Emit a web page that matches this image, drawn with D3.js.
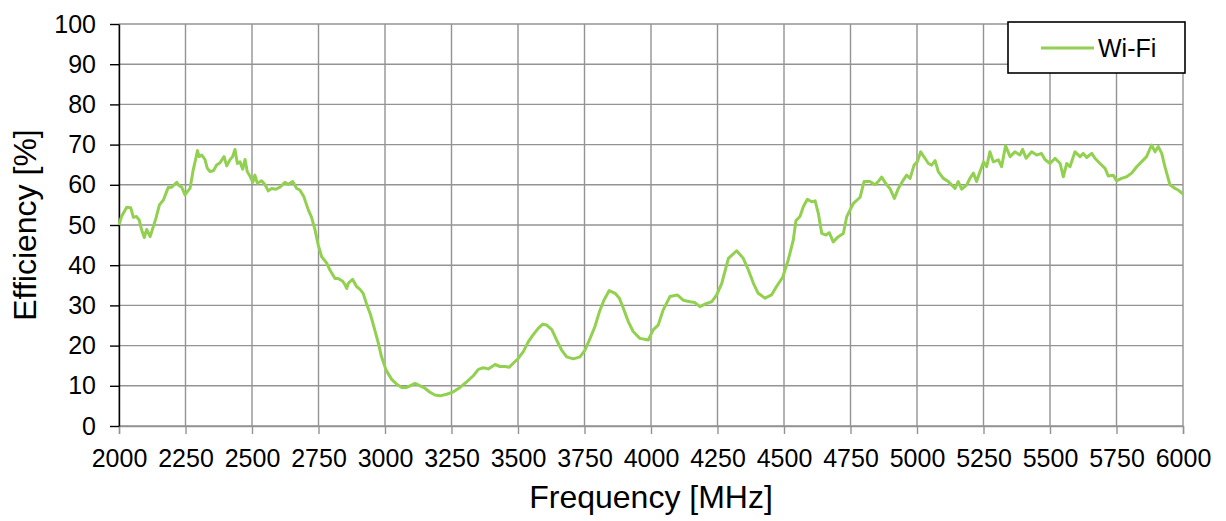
<!DOCTYPE html>
<html>
<head>
<meta charset="utf-8">
<script src="https://cdn.jsdelivr.net/npm/d3@7"></script>
<style>
html,body{margin:0;padding:0;background:#fff;}
svg{display:block;font-family:"Liberation Sans",Arial,sans-serif;}
</style>
</head>
<body>
<svg id="chart" width="1226" height="521"></svg>
<script>
const seriesName = "Wi-Fi";
const xTicks = [2000,2250,2500,2750,3000,3250,3500,3750,4000,4250,4500,4750,5000,5250,5500,5750,6000];
const yTicks = [0,10,20,30,40,50,60,70,80,90,100];
const frequency = [2000,2010,2029,2044,2054,2066,2076,2085,2095,2104,2117,2129,2139,2152,2167,2179,2185,2198,2217,2226,2236,2248,2257,2267,2279,2289,2295,2301,2311,2323,2332,2342,2355,2367,2380,2395,2405,2417,2427,2436,2445,2455,2465,2474,2482,2492,2503,2511,2520,2536,2549,2561,2574,2590,2605,2624,2636,2653,2668,2680,2695,2712,2724,2737,2749,2762,2781,2793,2812,2824,2841,2850,2856,2862,2878,2893,2906,2918,2931,2944,2956,2975,2987,3004,3025,3044,3063,3081,3094,3113,3132,3150,3169,3188,3207,3232,3257,3282,3307,3332,3351,3370,3388,3414,3432,3451,3467,3482,3501,3520,3539,3558,3576,3592,3608,3627,3645,3664,3683,3708,3733,3752,3771,3789,3806,3823,3843,3865,3881,3896,3915,3933,3958,3990,4008,4027,4046,4071,4099,4121,4147,4165,4184,4209,4228,4247,4266,4291,4322,4347,4366,4385,4403,4429,4453,4472,4495,4516,4535,4545,4560,4573,4588,4604,4617,4629,4642,4658,4670,4685,4704,4723,4736,4761,4786,4801,4823,4842,4854,4867,4886,4898,4915,4930,4946,4961,4974,4989,5001,5014,5030,5043,5055,5068,5080,5099,5118,5143,5155,5168,5187,5199,5212,5224,5237,5250,5262,5274,5287,5306,5318,5333,5350,5368,5387,5397,5410,5431,5450,5468,5481,5500,5519,5538,5550,5563,5575,5594,5613,5625,5638,5657,5669,5688,5707,5719,5738,5750,5769,5788,5807,5826,5844,5863,5882,5895,5907,5920,5932,5951,5970,5982,6000];
const efficiency = [50.0,52.2,54.4,54.3,51.9,52.1,51.2,48.8,46.9,48.9,47.1,49.6,51.7,55.0,56.2,58.3,59.3,59.4,60.6,59.8,59.4,57.5,58.3,59.1,63.7,66.6,68.5,67.0,67.4,66.3,64.1,63.3,63.5,64.9,65.5,67.0,64.7,66.2,67.0,68.8,65.3,65.7,63.9,66.3,63.3,62.2,60.6,62.4,60.4,61.0,60.0,58.5,59.1,58.9,59.4,60.6,60.1,60.8,59.1,58.7,57.0,53.7,51.9,48.8,45.0,42.1,40.5,38.8,36.7,36.7,36.0,35.1,34.2,35.5,36.5,34.7,34.0,33.0,30.3,28.0,25.2,20.6,17.2,13.9,11.6,10.4,9.6,9.6,10.0,10.6,10.0,9.4,8.4,7.7,7.5,7.9,8.5,9.6,11.0,12.5,14.1,14.5,14.2,15.3,14.8,14.8,14.6,15.6,16.8,18.5,21.0,22.8,24.3,25.3,25.1,24.0,21.4,18.9,17.2,16.7,17.2,18.9,21.8,24.7,28.4,31.3,33.7,33.0,31.8,29.3,25.9,23.5,21.8,21.4,23.9,25.1,28.9,32.2,32.6,31.3,30.9,30.7,29.7,30.5,30.9,32.6,35.5,41.7,43.6,41.7,38.8,35.5,33.0,31.8,32.6,34.7,37.0,41.3,46.3,51.1,52.1,54.6,56.4,55.8,56.0,52.9,47.9,47.5,48.1,45.8,47.1,47.9,52.1,55.4,56.9,60.8,60.8,60.0,60.8,61.9,60.0,59.1,56.6,59.1,60.9,62.4,61.6,64.9,65.7,68.2,66.6,65.3,64.9,66.0,63.3,61.6,60.8,59.1,60.8,58.9,60.0,61.6,62.9,60.8,63.3,65.7,64.5,68.2,65.7,66.2,64.5,69.7,67.0,68.2,67.4,68.8,66.6,68.2,67.4,67.8,66.3,65.3,66.6,65.3,62.0,65.3,64.5,68.2,67.0,67.8,66.8,67.8,66.6,65.3,64.1,62.2,62.4,61.0,61.6,62.0,62.9,64.5,65.7,67.0,69.9,68.2,69.5,67.8,64.5,60.0,59.1,58.7,57.7];

const margin = {top:24, right:43, bottom:95, left:119};
const W = 1226, H = 521;
const iw = W - margin.left - margin.right;
const ih = H - margin.top - margin.bottom;

const svg = d3.select("#chart");
const g = svg.append("g").attr("transform", `translate(${margin.left},${margin.top})`);

const x = d3.scaleLinear().domain([2000,6000]).range([0, iw]);
const y = d3.scaleLinear().domain([0,100]).range([ih, 0]);

const gridColor = "#939393";

// vertical gridlines
g.append("g").selectAll("line").data(xTicks).join("line")
  .attr("x1", d => x(d)).attr("x2", d => x(d))
  .attr("y1", 0).attr("y2", ih)
  .attr("stroke", gridColor).attr("stroke-width", 1.4);
// horizontal gridlines
g.append("g").selectAll("line").data(yTicks).join("line")
  .attr("x1", 0).attr("x2", iw)
  .attr("y1", d => y(d)).attr("y2", d => y(d))
  .attr("stroke", gridColor).attr("stroke-width", 1.4);

// x axis
const xAxis = g.append("g").attr("transform", `translate(0,${ih})`)
  .call(d3.axisBottom(x).tickValues(xTicks).tickFormat(d3.format("d")).tickSize(8).tickPadding(15));
xAxis.select(".domain").attr("stroke", gridColor).attr("stroke-width", 1.4);
xAxis.selectAll(".tick line").attr("stroke", gridColor).attr("stroke-width", 1.4);
xAxis.selectAll("text").attr("fill", "#000").style("font-size", "25px");

// y axis
const yAxis = g.append("g")
  .call(d3.axisLeft(y).tickValues(yTicks).tickSize(9).tickPadding(14).tickSizeOuter(0));
yAxis.select(".domain").attr("stroke", "#000").attr("stroke-width", 1.4);
yAxis.selectAll(".tick line").attr("stroke", "#000").attr("stroke-width", 1.4);
yAxis.selectAll("text").attr("fill", "#000").style("font-size", "25px");

// data line
const data = frequency.map((f, i) => ({f, v: efficiency[i]}));
g.append("path").datum(data)
  .attr("fill", "none")
  .attr("stroke", "#92d050")
  .attr("stroke-width", 3)
  .attr("stroke-linejoin", "round")
  .attr("d", d3.line().x(d => x(d.f)).y(d => y(d.v)));

// axis titles
svg.append("text")
  .attr("x", margin.left + iw/2).attr("y", 508)
  .attr("text-anchor", "middle")
  .style("font-size", "32px").attr("fill", "#000")
  .text("Frequency [MHz]");
svg.append("text")
  .attr("transform", `translate(36,${margin.top + ih/2}) rotate(-90)`)
  .attr("text-anchor", "middle")
  .style("font-size", "32px").attr("fill", "#000")
  .text("Efficiency [%]");

// legend
const lg = svg.append("g");
lg.append("rect").attr("x", 1008).attr("y", 22).attr("width", 177).attr("height", 51)
  .attr("fill", "#fff").attr("stroke", "#000").attr("stroke-width", 1.6);
lg.append("line").attr("x1", 1041).attr("x2", 1094).attr("y1", 48).attr("y2", 48)
  .attr("stroke", "#92d050").attr("stroke-width", 3);
lg.append("text").attr("x", 1098).attr("y", 57)
  .style("font-size", "25px").attr("fill", "#000").text(seriesName);
</script>
</body>
</html>
